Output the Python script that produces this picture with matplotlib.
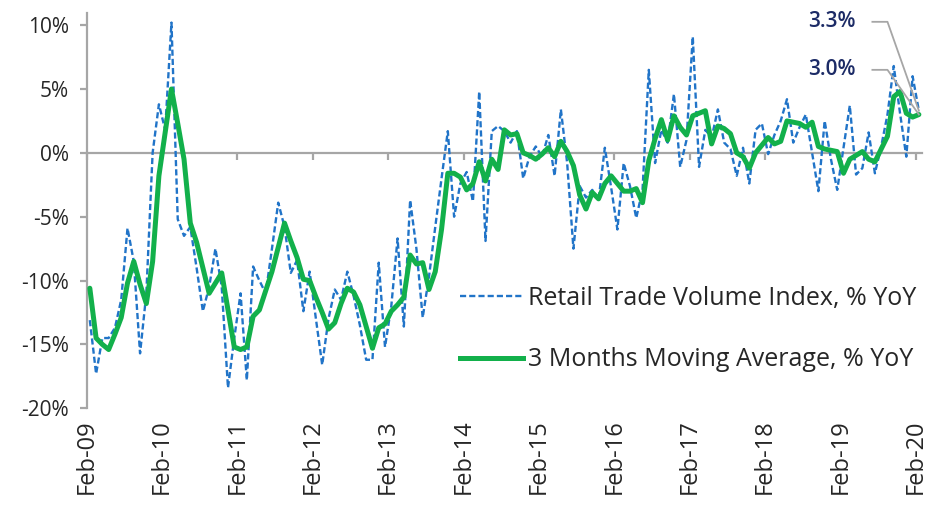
import numpy as np
import matplotlib
matplotlib.use("Agg")
import matplotlib.pyplot as plt
from matplotlib.lines import Line2D

# Monthly series, Feb-09 .. Feb-20 (% year on year)
retail_yoy = [
    -13.1, -17.3, -14.5, -14.5, -13.7, -11.5, -5.9, -8.5, -15.7, -11.0,
    0.0, 3.8, 1.8, 10.2, -5.2, -6.5, -5.8, -9.0, -12.4, -10.5,
    -7.5, -10.5, -18.4, -14.5, -11.0, -17.8, -8.9, -10.0, -11.0, -7.5,
    -3.9, -5.8, -9.4, -8.4, -12.4, -9.3, -13.0, -16.6, -13.0, -10.7,
    -11.5, -9.3, -11.2, -13.5, -16.2, -16.2, -8.6, -15.2, -12.0, -6.7,
    -13.6, -3.7, -7.5, -12.9, -9.7, -5.8, -2.0, 1.7, -5.0, -2.4,
    -1.5, -3.8, 4.8, -6.9, 1.7, 2.1, 1.7, 0.8, 1.7, -2.0,
    -0.3, 0.5, -0.3, 1.4, -1.8, 3.4, -0.8, -7.5, -2.6, -3.5,
    -2.9, -3.7, 0.4, -2.7, -6.0, -0.8, -2.6, -5.1, -2.9, 6.5,
    -0.8, 1.8, 0.8, 4.6, -1.1, 1.0, 9.1, -1.1, 1.8, 1.2,
    3.4, 0.8, 0.3, -1.8, 0.4, -2.4, 1.8, 2.3, -0.1, 1.4,
    2.5, 4.2, 0.8, 2.0, 3.0, 0.0, -3.0, 2.5, -0.5, -2.9,
    0.4, 3.7, -1.7, -1.2, 1.6, -1.6, 0.5, 3.0, 6.8, 3.1,
    -0.3, 6.0, 3.3,
]

ma3_yoy = [
    -10.6, -14.5, -15.0, -15.4, -14.2, -12.9, -10.2, -8.5, -10.3, -11.8,
    -8.5, -1.8, 1.6, 5.0, 2.3, -0.5, -5.5, -7.0, -9.0, -11.0,
    -10.2, -9.4, -12.3, -15.2, -15.4, -15.2, -12.8, -12.3, -10.8, -9.3,
    -7.4, -5.5, -6.9, -8.2, -9.9, -10.0, -11.3, -12.5, -13.8, -13.3,
    -11.8, -10.6, -10.9, -11.9, -13.6, -15.3, -13.7, -13.4, -12.4, -11.9,
    -11.3, -8.0, -8.7, -8.6, -10.7, -9.3, -6.0, -1.6, -1.6, -1.9,
    -2.9, -2.4, -0.7, -2.2, -0.5, -1.3, 1.8, 1.4, 1.5, 0.0,
    -0.2, -0.5, -0.1, 0.4, -0.3, 0.9, 0.1, -1.0, -3.3, -4.4,
    -3.1, -3.6, -2.4, -1.8, -2.4, -3.0, -3.0, -2.8, -3.9, -0.6,
    1.1, 2.6, 1.0, 2.9, 2.0, 1.4, 2.9, 3.1, 3.3, 0.7,
    2.1, 1.9, 1.5, 0.0, -0.3, -1.2, 0.0, 0.6, 1.2, 0.7,
    0.9, 2.5, 2.4, 2.3, 2.0, 2.4, 0.5, 0.3, 0.2, 0.1,
    -1.6, -0.5, -0.2, 0.1, -0.5, -0.7, 0.3, 1.3, 4.4, 4.8,
    3.1, 2.8, 3.0,
]

year_labels = ["Feb-09", "Feb-10", "Feb-11", "Feb-12", "Feb-13", "Feb-14",
               "Feb-15", "Feb-16", "Feb-17", "Feb-18", "Feb-19", "Feb-20"]
y_ticks = [-20, -15, -10, -5, 0, 5, 10]

series_names = ["Retail Trade Volume Index, % YoY",
                "3 Months Moving Average, % YoY"]

FONT = "Open Sans"
BLUE = "#2174c8"
GREEN = "#12b04b"
AXIS = "#a6a6a6"
TEXT = "#262626"
NAVY = "#1c2b66"

plt.rcParams["font.family"] = [FONT, "DejaVu Sans"]

fig = plt.figure(figsize=(9.26, 5.08), dpi=100)
ax = fig.add_axes([0.0936, 0.1963, 0.9021, 0.7781])

x = np.arange(len(retail_yoy))
ax.plot(x, retail_yoy, color=BLUE, lw=1.7, dashes=(2.6, 1.3), zorder=3)
ax.plot(x, ma3_yoy, color=GREEN, lw=3.6, solid_joinstyle="round",
        solid_capstyle="round", zorder=4)

ax.set_xlim(-0.5, len(x) - 0.5)
ax.set_ylim(-20, 10.95)

for side in ("top", "right"):
    ax.spines[side].set_visible(False)
ax.spines["bottom"].set_position(("data", 0))
for side in ("bottom", "left"):
    ax.spines[side].set_color(AXIS)
    ax.spines[side].set_linewidth(1.6)

xt = np.arange(len(year_labels)) * 12 - 0.5
ax.set_xticks(xt)
ax.set_xticklabels([])
ax.tick_params(axis="x", direction="out", length=5, width=1.6, color=AXIS)

ax.set_yticks(y_ticks)
ax.set_yticklabels([f"{v}%" for v in y_ticks], fontsize=15, color=TEXT)
ax.tick_params(axis="y", direction="out", length=5, width=1.6, color=AXIS, pad=8)

# year labels below the plot area
sec = ax.secondary_xaxis("bottom")
sec.set_xticks(xt, labels=year_labels)
sec.tick_params(length=0, pad=8)
sec.spines["bottom"].set_visible(False)
for lbl in sec.get_xticklabels():
    lbl.set_rotation(90)
    lbl.set_fontsize(17)
    lbl.set_color(TEXT)

handles = [Line2D([], [], color=BLUE, lw=1.7, dashes=(2.6, 1.3)),
           Line2D([], [], color=GREEN, lw=3.6)]
leg = ax.legend(handles, series_names, loc="center left",
                bbox_to_anchor=(0.447, 0.2), frameon=False, fontsize=18,
                handlelength=2.5, handletextpad=0.2, labelspacing=1.45,
                borderpad=0, borderaxespad=0)
for t in leg.get_texts():
    t.set_color(TEXT)

# callouts for the latest readings
last = len(x) - 1
callouts = [(retail_yoy[-1], 10.26), (ma3_yoy[-1], 6.5)]
for val, ty in callouts:
    ax.text(121.9, ty, f"{val:.1f}%", ha="right", va="center",
            fontsize=15, fontweight="semibold", color=NAVY)
    ax.plot([124.6, 127.0, last], [ty, ty, val], color=AXIS, lw=1.3,
            zorder=5, clip_on=False)

fig.savefig("out.png", dpi=100)
